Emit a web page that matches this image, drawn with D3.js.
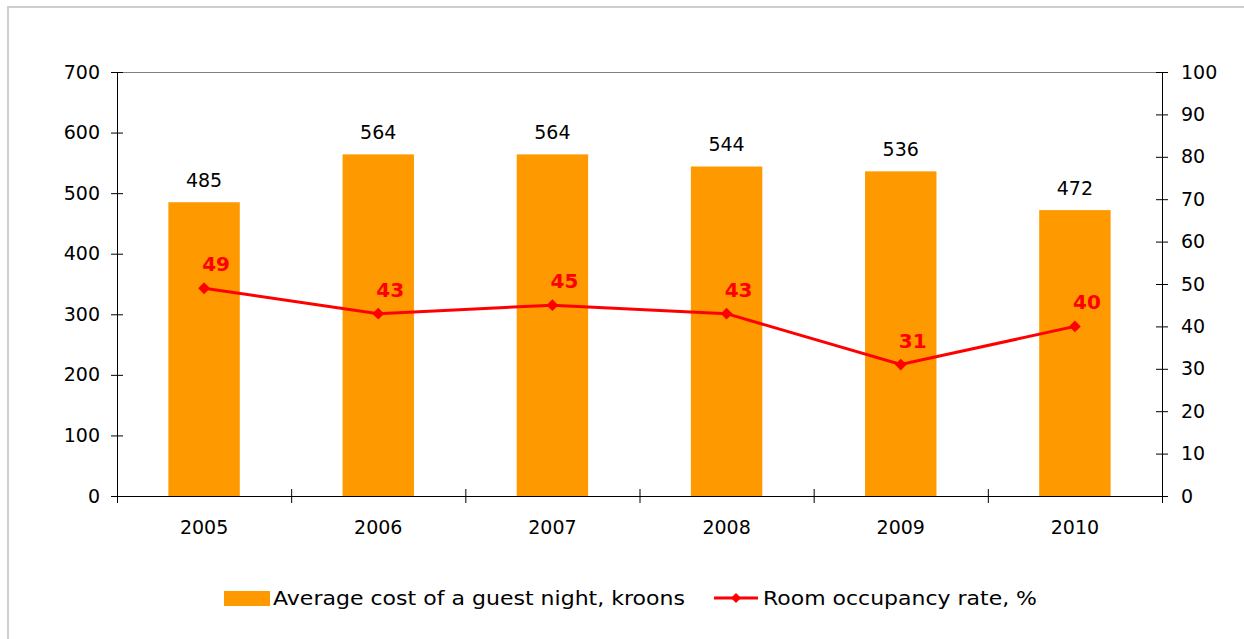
<!DOCTYPE html>
<html>
<meta charset="utf-8">
<head>
    <script src="https://d3js.org/d3.v7.min.js"></script>
    <style>
        body { margin: 0; background: #fff; }
        text { font-family: "DejaVu Sans", Verdana, sans-serif; }
    </style>
</head>
<body>
    <div id="chart"></div>
</body>

<script>
    // data
    const years = ["2005", "2006", "2007", "2008", "2009", "2010"];
    const avgCost = [485, 564, 564, 544, 536, 472];
    const occupancy = [49, 43, 45, 43, 31, 40];
    const leftTicks = [0, 100, 200, 300, 400, 500, 600, 700];
    const rightTicks = [0, 10, 20, 30, 40, 50, 60, 70, 80, 90, 100];
    const barName = "Average cost of a guest night, kroons";
    const lineName = "Room occupancy rate, %";

    const W = 1244, H = 639;
    const plot = { left: 117, right: 1162, top: 72, bottom: 496 };

    const svg = d3.select("#chart")
        .append("svg")
            .attr("width", W)
            .attr("height", H);

    svg.append("rect")
        .attr("width", W).attr("height", H)
        .attr("fill", "#fff");

    // outer frame
    svg.append("rect")
        .attr("x", 8).attr("y", 7)
        .attr("width", W + 20).attr("height", H + 20)
        .attr("fill", "none")
        .attr("stroke", "#cfcfcf")
        .attr("stroke-width", 2);

    const x = d3.scaleBand()
        .domain(years)
        .range([plot.left, plot.right])
        .paddingInner(0.59)
        .paddingOuter(0.295);

    const xEdge = d3.scaleLinear()
        .domain([0, years.length])
        .range([plot.left, plot.right]);

    const y = d3.scaleLinear()
        .domain([0, 700])
        .range([plot.bottom, plot.top]);

    const y2 = d3.scaleLinear()
        .domain([0, 100])
        .range([plot.bottom, plot.top]);

    // top border of plot area
    svg.append("line")
        .attr("x1", plot.left).attr("x2", plot.right)
        .attr("y1", plot.top + 0.5).attr("y2", plot.top + 0.5)
        .attr("stroke", "#808080")
        .attr("stroke-width", 1);

    // bars
    svg.selectAll(".bar")
        .data(years)
        .join("rect")
            .attr("class", "bar")
            .attr("x", d => x(d))
            .attr("y", (d, i) => y(avgCost[i]))
            .attr("width", x.bandwidth())
            .attr("height", (d, i) => y(0) - y(avgCost[i]))
            .attr("fill", "#ff9900");

    // bar labels
    svg.selectAll(".barLabel")
        .data(years)
        .join("text")
            .attr("class", "barLabel")
            .attr("x", d => x(d) + x.bandwidth() / 2)
            .attr("y", (d, i) => y(avgCost[i]) - 15)
            .attr("text-anchor", "middle")
            .attr("font-size", 19)
            .attr("fill", "#000")
            .text((d, i) => avgCost[i]);

    // left axis
    const gl = svg.append("g")
        .attr("transform", `translate(${plot.left},0)`)
        .call(d3.axisLeft(y).tickValues(leftTicks).tickSizeInner(6).tickSizeOuter(0).tickPadding(11));
    gl.selectAll(".tick line").attr("x1", 6);
    gl.select(".domain").attr("d", `M0.5,${plot.top}V${plot.bottom + 7}`);

    // right axis
    const gr = svg.append("g")
        .attr("transform", `translate(${plot.right},0)`)
        .call(d3.axisRight(y2).tickValues(rightTicks).tickSizeInner(6).tickSizeOuter(0).tickPadding(13));
    gr.selectAll(".tick line").attr("x1", -6);
    gr.select(".domain").attr("d", `M0.5,${plot.top}V${plot.bottom + 7}`);

    // bottom axis: boundary ticks
    const gb = svg.append("g")
        .attr("transform", `translate(0,${plot.bottom})`)
        .call(d3.axisBottom(xEdge).ticks(years.length).tickFormat("").tickSizeInner(7).tickSizeOuter(0));
    gb.selectAll(".tick line").attr("y1", -7);

    // bottom axis: category labels
    svg.append("g")
        .attr("transform", `translate(0,${plot.bottom})`)
        .call(d3.axisBottom(x).tickSize(0).tickPadding(25))
        .call(g => g.select(".domain").remove());

    svg.selectAll(".tick text")
        .attr("font-size", 19)
        .attr("font-family", "DejaVu Sans, Verdana, sans-serif")
        .attr("fill", "#000");
    svg.selectAll(".tick line, .domain")
        .attr("stroke", "#000");

    // occupancy line
    const cx = (d, i) => x(years[i]) + x.bandwidth() / 2;
    const line = d3.line()
        .x(cx)
        .y(d => y2(d));

    svg.append("path")
        .datum(occupancy)
        .attr("d", line)
        .attr("fill", "none")
        .attr("stroke", "#ff0000")
        .attr("stroke-width", 3);

    const diamond = d3.symbol(d3.symbolSquare, 70);
    svg.selectAll(".marker")
        .data(occupancy)
        .join("path")
            .attr("class", "marker")
            .attr("d", diamond)
            .attr("transform", (d, i) => `translate(${cx(d, i)},${y2(d)}) rotate(45)`)
            .attr("fill", "#ff0000");

    svg.selectAll(".lineLabel")
        .data(occupancy)
        .join("text")
            .attr("class", "lineLabel")
            .attr("x", (d, i) => cx(d, i) + 12)
            .attr("y", d => y2(d) - 17)
            .attr("text-anchor", "middle")
            .attr("font-size", 20)
            .attr("font-weight", "bold")
            .attr("fill", "#ff0000")
            .text(d => d);

    // legend
    const lg = svg.append("g");
    lg.append("rect")
        .attr("x", 224).attr("y", 591)
        .attr("width", 46).attr("height", 15)
        .attr("fill", "#ff9900");
    lg.append("text")
        .attr("x", 273).attr("y", 605)
        .attr("font-size", 19)
        .attr("textLength", 412)
        .attr("lengthAdjust", "spacingAndGlyphs")
        .text(barName);
    lg.append("line")
        .attr("x1", 714).attr("x2", 758)
        .attr("y1", 598).attr("y2", 598)
        .attr("stroke", "#ff0000")
        .attr("stroke-width", 3);
    lg.append("path")
        .attr("d", d3.symbol(d3.symbolSquare, 50))
        .attr("transform", "translate(736,598) rotate(45)")
        .attr("fill", "#ff0000");
    lg.append("text")
        .attr("x", 763).attr("y", 605)
        .attr("font-size", 19)
        .attr("textLength", 274)
        .attr("lengthAdjust", "spacingAndGlyphs")
        .text(lineName);
</script>
</html>
